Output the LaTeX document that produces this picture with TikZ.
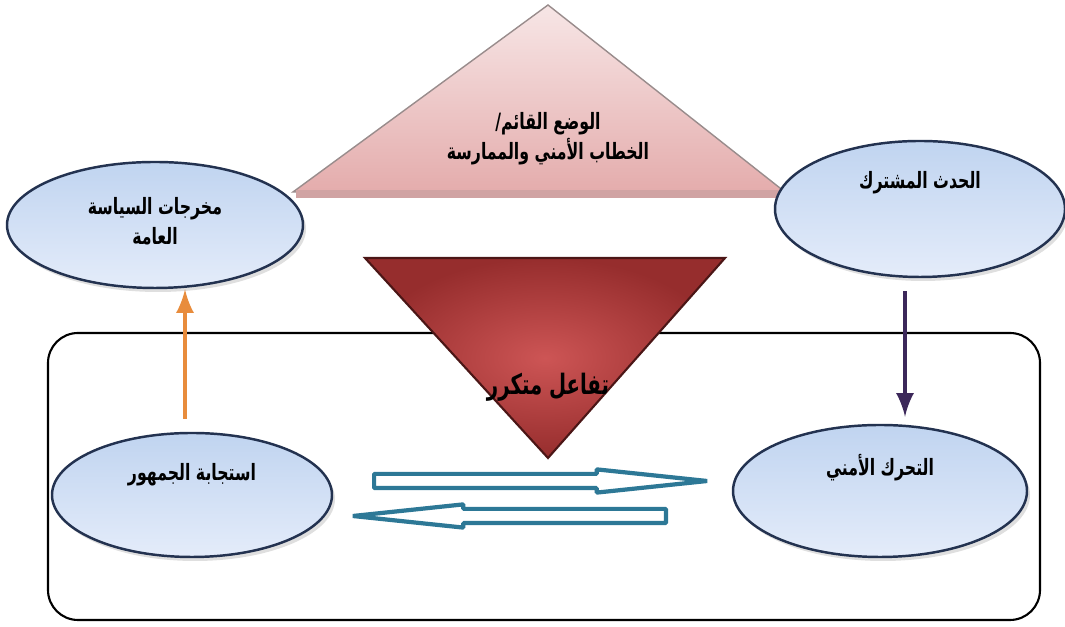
\documentclass[tikz,border=0pt]{standalone}
\usepackage{fontspec}
\newfontfamily\arabicfont[Script=Arabic]{DejaVu Sans}
\TeXXeTstate=1
\usetikzlibrary{positioning,shapes,arrows,shadows}
\definecolor{bubbletop}{RGB}{192,212,240}
\definecolor{bubblebot}{RGB}{228,236,250}
\definecolor{bubbleline}{RGB}{35,50,80}
\definecolor{pinktop}{RGB}{247,230,230}
\definecolor{pinkbot}{RGB}{228,172,172}
\definecolor{redin}{RGB}{205,85,85}
\definecolor{redout}{RGB}{150,45,45}
\definecolor{flowline}{RGB}{45,120,150}
\definecolor{upline}{RGB}{232,140,60}
\definecolor{downline}{RGB}{60,40,90}
\tikzstyle{bubble} = [ellipse, draw=bubbleline, line width=0.7pt, top color=bubbletop, bottom color=bubblebot, drop shadow={opacity=0.25, shadow xshift=0.03cm, shadow yshift=-0.04cm}]
\tikzstyle{caption} = [font=\arabicfont\bfseries\fontsize{6.4}{8.5}\selectfont, align=center, xscale=0.7]
\tikzstyle{flow} = [single arrow, draw=flowline, line width=1.2pt, line join=bevel, fill=white, inner sep=0.05cm, single arrow head extend=0.045cm, single arrow tip angle=12, anchor=tail]
\tikzstyle{connect} = [line width=1.3pt,-latex]

\begin{document}
\begin{tikzpicture}[node distance=2.8cm]
			\useasboundingbox (0,0) rectangle (10.65,6.27);
			\draw [rounded corners=0.3cm, line width=0.6pt] (0.48,0.07) rectangle (10.40,2.94);
			%-----------------------------------------------
			\draw [draw=gray!80!pink, top color=pinktop, bottom color=pinkbot] (5.48,6.22) -- (7.85,4.35) -- (2.93,4.35) -- cycle;
			\draw [pinkbot!80!gray, line width=2pt] (2.96,4.33) -- (7.82,4.33);
			\draw [draw=redout!50!black, line width=0.6pt, inner color=redin, outer color=redout] (3.65,3.69) -- (7.25,3.69) -- (5.48,1.69) -- cycle;
			\node (state) [caption] at (5.48,4.88) {{\beginR الوضع القائم/\endR}\\{\beginR الخطاب الأمني والممارسة\endR}};
			\node (loop) [caption, font=\arabicfont\bfseries\fontsize{8}{9}\selectfont] at (5.48,2.40) {\beginR تفاعل متكرر\endR};
			%-----------------------------------------------
			\node (event) [bubble, minimum width=2.9cm, minimum height=1.36cm, label={[caption, yshift=0.26cm]center:{\beginR الحدث المشترك\endR}}] at (9.20,4.18) {};
			\node (mobilize) [bubble, minimum width=2.94cm, minimum height=1.32cm, below of=event, node distance=2.82cm, xshift=-0.4cm, label={[caption, yshift=0.23cm]center:{\beginR التحرك الأمني\endR}}] {};
			\node (outputs) [bubble, minimum width=2.96cm, minimum height=1.26cm, label={[caption, yshift=0.04cm]center:{{\beginR مخرجات السياسة\endR}\\{\beginR العامة\endR}}}] at (1.55,4.02) {};
			\node (response) [bubble, minimum width=2.8cm, minimum height=1.24cm, below of=outputs, node distance=2.7cm, xshift=0.37cm, label={[caption, yshift=0.2cm]center:{\beginR استجابة الجمهور\endR}}] {};
			%-----------------------------------------------
			\node (fwd) [flow, minimum height=3.33cm] at (3.72,1.46) {};
			\node (back) [flow, minimum height=3.13cm, shape border rotate=180] at (6.68,1.11) {};
			\draw [connect, upline, shorten <=0.13cm] ([xshift=-0.07cm]response.north) -- ([xshift=-0.07cm]response.north |- outputs.south);
			\draw [connect, downline, shorten <=0.13cm, shorten >=0.07cm] ([xshift=-0.15cm]event.south) -- ([xshift=-0.15cm]event.south |- mobilize.north);
\end{tikzpicture}
\end{document}
